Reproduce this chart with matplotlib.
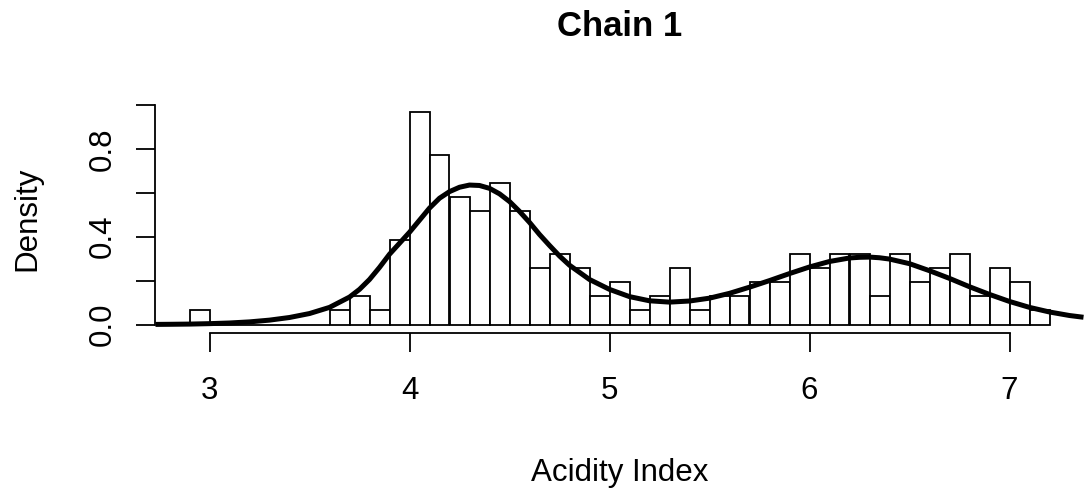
import matplotlib
matplotlib.use("Agg")
import matplotlib.pyplot as plt
import numpy as np

plt.rcParams['font.family'] = ['Liberation Sans', 'DejaVu Sans']

# Histogram bins (left edges, width 0.1) and densities
bin_left = [2.9, 3.0, 3.1, 3.2, 3.3, 3.4, 3.5, 3.6, 3.7, 3.8, 3.9, 4.0, 4.1, 4.2,
            4.3, 4.4, 4.5, 4.6, 4.7, 4.8, 4.9, 5.0, 5.1, 5.2, 5.3, 5.4, 5.5, 5.6,
            5.7, 5.8, 5.9, 6.0, 6.1, 6.2, 6.3, 6.4, 6.5, 6.6, 6.7, 6.8, 6.9, 7.0, 7.1]
density = [0.065, 0.0, 0.0, 0.0, 0.0, 0.0, 0.0, 0.065, 0.129, 0.065, 0.387, 0.968,
           0.774, 0.581, 0.516, 0.645, 0.516, 0.258, 0.323, 0.258, 0.129, 0.194,
           0.065, 0.129, 0.258, 0.065, 0.129, 0.129, 0.194, 0.194, 0.323, 0.258,
           0.323, 0.323, 0.129, 0.323, 0.194, 0.258, 0.323, 0.129, 0.258, 0.194, 0.065]
bin_width = 0.1

# Fitted density curve
curve_x = [2.73, 2.8, 2.9, 3.0, 3.1, 3.2, 3.3, 3.4, 3.5, 3.6, 3.7, 3.75, 3.8, 3.85,
           3.9, 3.95, 4.0, 4.05, 4.1, 4.15, 4.2, 4.25, 4.3, 4.35, 4.4, 4.45, 4.5,
           4.55, 4.6, 4.65, 4.7, 4.75, 4.8, 4.9, 5.0, 5.1, 5.2, 5.3, 5.4, 5.5, 5.6,
           5.7, 5.8, 5.9, 6.0, 6.1, 6.2, 6.25, 6.3, 6.35, 6.4, 6.5, 6.6, 6.7, 6.8,
           6.9, 7.0, 7.1, 7.2, 7.3, 7.37]
curve_y = [0.0005, 0.001, 0.002, 0.004, 0.007, 0.012, 0.02, 0.032, 0.05, 0.078, 0.125,
           0.16, 0.205, 0.26, 0.32, 0.37, 0.42, 0.475, 0.53, 0.575, 0.605, 0.625,
           0.635, 0.633, 0.62, 0.595, 0.56, 0.515, 0.465, 0.41, 0.36, 0.312, 0.27,
           0.205, 0.16, 0.127, 0.108, 0.102, 0.107, 0.12, 0.142, 0.17, 0.2, 0.232,
           0.262, 0.287, 0.303, 0.306, 0.307, 0.304, 0.298, 0.277, 0.245, 0.21,
           0.172, 0.137, 0.105, 0.078, 0.057, 0.041, 0.033]

x_ticks = [3, 4, 5, 6, 7]
y_ticks = [0.0, 0.2, 0.4, 0.6, 0.8, 1.0]
y_tick_labels = ['0.0', '', '0.4', '', '0.8', '']

W, H = 1085, 492
fig = plt.figure(figsize=(W / 100, H / 100), dpi=100)
ax = fig.add_axes([155 / W, (H - 333) / H, (1084 - 155) / W, (333 - 104) / H])

ax.bar(bin_left, density, width=bin_width, align='edge', facecolor='white',
       edgecolor='black', linewidth=1.3, zorder=2)
ax.plot(curve_x, curve_y, color='black', linewidth=3.6, zorder=3,
        solid_capstyle='butt', solid_joinstyle='round')

ax.set_xlim(2.7275, 7.3725)
ax.set_ylim(-0.0386, 1.004)

for s in ['top', 'right']:
    ax.spines[s].set_visible(False)
ax.spines['left'].set_bounds(0, 1.0)
ax.spines['bottom'].set_bounds(3, 7)
ax.spines['left'].set_linewidth(1.3)
ax.spines['bottom'].set_linewidth(1.3)

ax.set_xticks(x_ticks)
ax.set_xticklabels([str(t) for t in x_ticks])
ax.set_yticks(y_ticks)
ax.set_yticklabels(y_tick_labels)
ax.tick_params(axis='both', length=14, width=1.3, labelsize=22.5, direction='out')
ax.tick_params(axis='x', pad=17)
ax.tick_params(axis='y', pad=13)
plt.setp(ax.get_yticklabels(), rotation=90, va='center')

ax.set_xlabel('Acidity Index', fontsize=22.5)
ax.xaxis.set_label_coords(0.5, (333 - 473) / 229)
ax.xaxis.label.set_verticalalignment('center')
ax.set_ylabel('Density', fontsize=22.5)
ax.yaxis.set_label_coords((27 - 155) / 929, 0.5)
ax.yaxis.label.set_verticalalignment('center')

ax.set_title('Chain 1', fontsize=25, fontweight='bold', y=(333 - 27) / 229,
             va='center', pad=0)

fig.savefig('out.png', dpi=100)
